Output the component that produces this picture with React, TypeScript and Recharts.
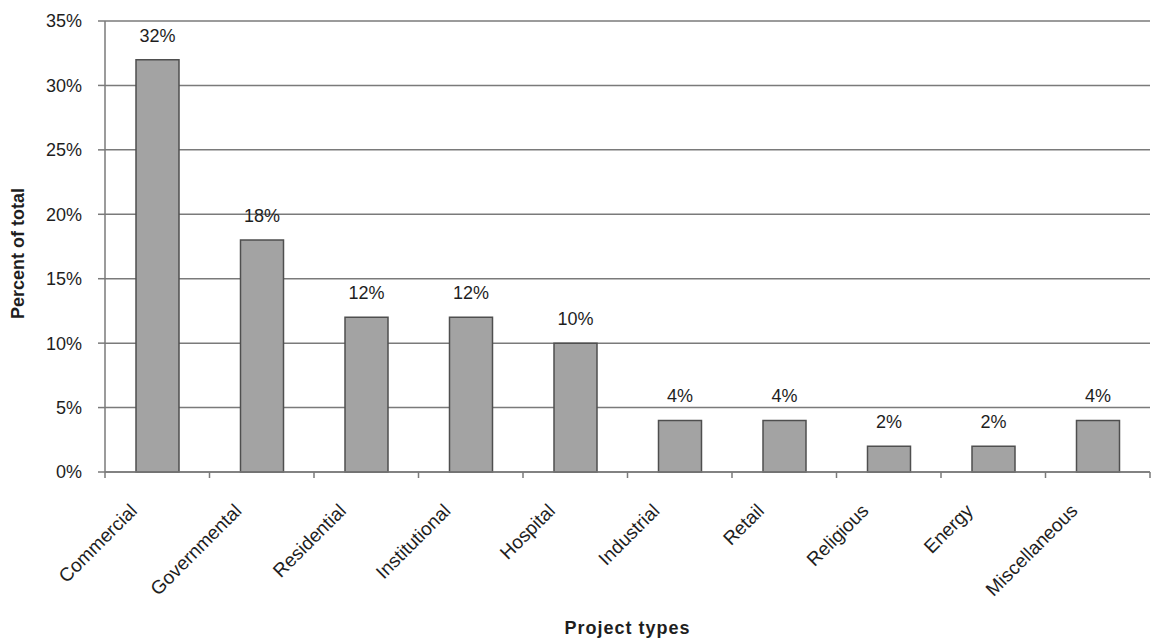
import React from 'react';
import { BarChart, Bar, XAxis, YAxis, CartesianGrid, LabelList } from 'recharts';

// Share of projects by type (percent of total)
const categories = [
  'Commercial',
  'Governmental',
  'Residential',
  'Institutional',
  'Hospital',
  'Industrial',
  'Retail',
  'Religious',
  'Energy',
  'Miscellaneous',
];
const shares = [32, 18, 12, 12, 10, 4, 4, 2, 2, 4];
const percentTicks = [0, 5, 10, 15, 20, 25, 30, 35];

const data = categories.map((name, i) => ({ name, share: shares[i] }));

const FONT = '"Liberation Sans", Arial, Helvetica, sans-serif';
const TEXT = '#1e1e1e';
const LINE = '#7a7a7a';

// Category label rotated 45°, plus tick marks on the band edges (between bars)
const AngledTick = (props: any) => {
  const { x, y, payload, index, visibleTicksCount } = props;
  const half = payload?.offset ?? 0;
  const last = index === (visibleTicksCount ?? categories.length) - 1;
  return (
    <g>
      <line x1={x - half} y1={y} x2={x - half} y2={y + 6} stroke={LINE} strokeWidth={1.5} />
      {last && (
        <line x1={x + half} y1={y} x2={x + half} y2={y + 6} stroke={LINE} strokeWidth={1.5} />
      )}
      <g transform={`translate(${x - 19},${y + 40})`}>
        <text
          transform="rotate(-45)"
          textAnchor="end"
          fontSize={19}
          fontFamily={FONT}
          fill={TEXT}
        >
          {payload.value}
        </text>
      </g>
    </g>
  );
};

const YTitle = (props: any) => {
  const vb = props.viewBox || {};
  const cx = 18;
  const cy = (vb.y ?? 0) + (vb.height ?? 0) / 2 + 7;
  return (
    <text
      x={cx}
      y={cy}
      transform={`rotate(-90 ${cx} ${cy})`}
      textAnchor="middle"
      dominantBaseline="central"
      fontSize={18}
      fontWeight="bold"
      fontFamily={FONT}
      fill={TEXT}
    >
      Percent of total
    </text>
  );
};

export default function App() {
  return (
    <div style={{ position: 'absolute', left: 0, top: 0, background: '#fff' }}>
      <BarChart
        width={1151}
        height={641}
        data={data}
        margin={{ top: 21, right: 1, bottom: 0, left: 0 }}
        barSize={43}
      >
        <CartesianGrid vertical={false} stroke={LINE} strokeWidth={1.5} />
        <XAxis
          dataKey="name"
          interval={0}
          tickLine={false}
          tickSize={0}
          tickMargin={0}
          axisLine={{ stroke: LINE, strokeWidth: 1.5 }}
          tick={<AngledTick />}
          height={169}
          label={{
            value: 'Project types',
            position: 'insideBottom',
            offset: 7,
            fontSize: 18,
            fontWeight: 'bold',
            fontFamily: FONT,
            fill: TEXT,
            letterSpacing: 1,
          }}
        />
        <YAxis
          domain={[0, 35]}
          ticks={percentTicks}
          tickFormatter={(v: number) => `${v}%`}
          width={105}
          tickSize={7}
          tickMargin={16}
          axisLine={{ stroke: LINE, strokeWidth: 1.5 }}
          tickLine={{ stroke: LINE, strokeWidth: 1.5 }}
          tick={{ fontSize: 18, fontFamily: FONT, fill: TEXT }}
          label={<YTitle />}
        />
        <Bar
          dataKey="share"
          fill="#a3a3a3"
          stroke="#4f4f4f"
          strokeWidth={1.5}
          isAnimationActive={false}
        >
          <LabelList
            dataKey="share"
            position="top"
            offset={18}
            formatter={(v: any) => `${v}%`}
            style={{ fontSize: 18, fontFamily: FONT, fill: TEXT }}
          />
        </Bar>
      </BarChart>
    </div>
  );
}
